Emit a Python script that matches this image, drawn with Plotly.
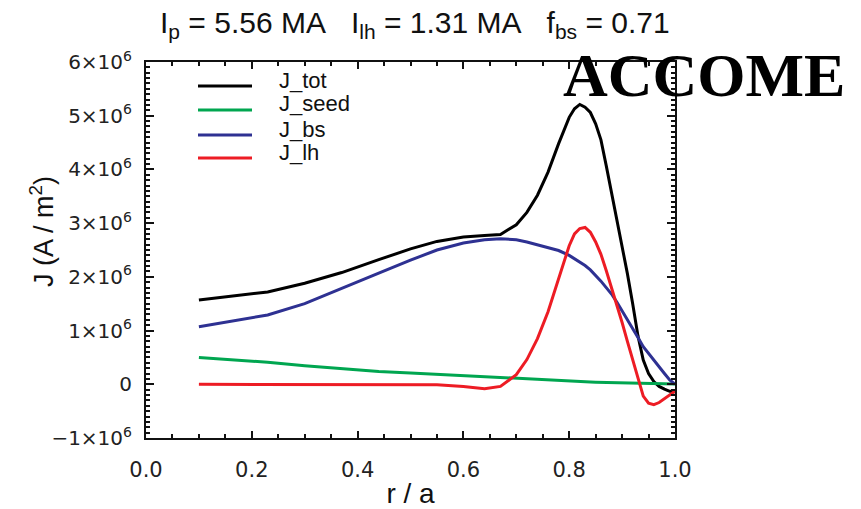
import plotly.graph_objects as go

r = [0.10, 0.23, 0.30, 0.37, 0.44, 0.50, 0.55, 0.60, 0.64, 0.67, 0.70, 0.72, 0.74, 0.76,
     0.78, 0.80, 0.81, 0.82, 0.83, 0.84, 0.85, 0.86, 0.87, 0.88, 0.89, 0.90, 0.91, 0.92,
     0.93, 0.94, 0.95, 0.96, 0.97, 0.98, 0.99, 1.00]

J_tot = [1.57, 1.72, 1.88, 2.08, 2.32, 2.52, 2.66, 2.74, 2.77, 2.79, 2.97, 3.20, 3.52, 3.95,
         4.48, 4.97, 5.13, 5.21, 5.16, 5.06, 4.85, 4.55, 4.07, 3.58, 3.08, 2.58, 2.06, 1.50,
         0.90, 0.45, 0.20, 0.05, -0.04, -0.09, -0.13, -0.14]
J_seed = [0.50, 0.41, 0.345, 0.29, 0.24, 0.21, 0.185, 0.16, 0.135, 0.12, 0.10, 0.09, 0.08, 0.07,
          0.06, 0.055, 0.05, 0.048, 0.045, 0.043, 0.04, 0.038, 0.036, 0.034, 0.032, 0.03, 0.027,
          0.024, 0.021, 0.018, 0.015, 0.013, 0.011, 0.009, 0.007, 0.005]
J_bs = [1.07, 1.29, 1.50, 1.79, 2.07, 2.31, 2.50, 2.63, 2.69, 2.71, 2.69, 2.65, 2.60, 2.55,
        2.49, 2.40, 2.34, 2.28, 2.21, 2.13, 2.03, 1.92, 1.80, 1.68, 1.53, 1.37, 1.21, 1.04,
        0.87, 0.70, 0.57, 0.45, 0.32, 0.20, 0.08, 0.0]
J_lh = [0, 0, 0, 0, 0, 0, -0.01, -0.04, -0.085, -0.04, 0.18, 0.46, 0.85, 1.35,
        1.95, 2.58, 2.80, 2.90, 2.92, 2.83, 2.65, 2.42, 2.12, 1.80, 1.50, 1.15, 0.80, 0.45,
        0.08, -0.22, -0.35, -0.38, -0.34, -0.27, -0.19, -0.13]

scale = 1e6
names = ["J_tot", "J_seed", "J_bs", "J_lh"]
series = [J_tot, J_seed, J_bs, J_lh]
colors = ["#000000", "#00a650", "#2e3192", "#ed1c24"]

x_ticks = [0.0, 0.2, 0.4, 0.6, 0.8, 1.0]
x_ticktext = ["0.0", "0.2", "0.4", "0.6", "0.8", "1.0"]
y_ticks = [-1e6, 0, 1e6, 2e6, 3e6, 4e6, 5e6, 6e6]
y_ticktext = ["\u22121\u00d710<sup>6</sup>", "0", "1\u00d710<sup>6</sup>", "2\u00d710<sup>6</sup>",
              "3\u00d710<sup>6</sup>", "4\u00d710<sup>6</sup>", "5\u00d710<sup>6</sup>",
              "6\u00d710<sup>6</sup>"]

title_text = ("I<sub>p</sub> = 5.56 MA\u00a0\u00a0\u00a0I<sub>lh</sub> = 1.31 MA"
              "\u00a0\u00a0\u00a0f<sub>bs</sub> = 0.71")
x_title = "r / a"
y_title = "J (A / m<sup>2</sup>)"

fig = go.Figure()
for name, vals, col in zip(names, series, colors):
    fig.add_trace(go.Scatter(x=r, y=[v * scale for v in vals], mode="lines", name=name,
                             line=dict(color=col, width=3), showlegend=False))

FONT = "Liberation Sans, Arial, sans-serif"
TICKFONT = "DejaVu Sans, sans-serif"

PL, PR, PT, PB = 146, 675, 62, 438
PW, PH = PR - PL, PB - PT

def px(x):
    return (x - PL) / PW

def py(y):
    return (PB - y) / PH

# manual legend (IDL style)
leg_y = [86, 110, 135, 158]
shapes = []
annotations = []
for name, col, yy in zip(names, colors, leg_y):
    shapes.append(dict(type="line", xref="paper", yref="paper",
                       x0=px(198), x1=px(252), y0=py(yy), y1=py(yy),
                       line=dict(color=col, width=3)))
    annotations.append(dict(text=name, xref="paper", yref="paper", x=px(277),
                            y=py(yy - 6), xanchor="left", yanchor="middle",
                            showarrow=False, font=dict(family=FONT, size=22, color="#111")))

annotations.append(dict(text=title_text, xref="paper", yref="paper", x=px(415),
                        y=py(24), xanchor="center", yanchor="middle", showarrow=False,
                        font=dict(family=FONT, size=30, color="#111")))
annotations.append(dict(text="<b>ACCOME</b>", xref="paper", yref="paper", x=px(704),
                        y=py(75), xanchor="center", yanchor="middle", showarrow=False,
                        font=dict(family="Liberation Serif, Times New Roman, serif", size=62,
                                  color="#000")))
annotations.append(dict(text=y_title, xref="paper", yref="paper", x=px(42), y=py(232),
                        xanchor="center", yanchor="middle", textangle=-90, showarrow=False,
                        font=dict(family=FONT, size=27, color="#111")))

fig.update_layout(
    width=861, height=509,
    margin=dict(l=PL, r=861 - PR, t=PT, b=509 - PB, autoexpand=False),
    plot_bgcolor="white", paper_bgcolor="white",
    shapes=shapes, annotations=annotations,
    showlegend=False,
)

fig.update_xaxes(range=[0, 1], tickvals=x_ticks, ticktext=x_ticktext, ticks="inside",
                 ticklen=7, tickwidth=1.5, tickcolor="#111", showline=True, linecolor="#111",
                 linewidth=2, mirror="allticks", showgrid=False, zeroline=False,
                 automargin=False, ticklabelstandoff=12,
                 tickfont=dict(family=TICKFONT, size=21, color="#222"),
                 minor=dict(dtick=0.05, ticks="inside", ticklen=4, tickcolor="#111",
                            showgrid=False),
                 title=dict(text=x_title, font=dict(family=FONT, size=28, color="#111"),
                            standoff=12))
fig.update_yaxes(range=[-1e6, 6e6], tickvals=y_ticks, ticktext=y_ticktext, ticks="inside",
                 ticklen=8, tickwidth=1.5, tickcolor="#111", showline=True, linecolor="#111",
                 linewidth=2, mirror="allticks", showgrid=False, zeroline=False,
                 automargin=False, ticklabelstandoff=8,
                 tickfont=dict(family=TICKFONT, size=20, color="#222"),
                 minor=dict(dtick=1e5, ticks="inside", ticklen=4, tickcolor="#111",
                            showgrid=False))

fig.write_html("out.html")
